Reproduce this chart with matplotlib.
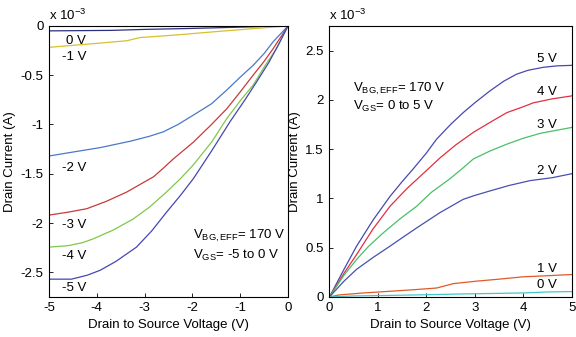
import matplotlib
matplotlib.use("Agg")
import matplotlib.pyplot as plt

plt.rcParams['font.family'] = ['Liberation Sans', 'DejaVu Sans']
plt.rcParams['mathtext.fontset'] = 'custom'
plt.rcParams['mathtext.rm'] = 'Liberation Sans'
plt.rcParams['mathtext.it'] = 'Liberation Sans'

# ---- Left panel data (VDS in V, ID in 1e-3 A) ----
left_labels = ["0 V", "-1 V", "-2 V", "-3 V", "-4 V", "-5 V"]
left_colors = ["#2b3080", "#d8c030", "#4a78c8", "#c83a3a", "#80c848", "#4646b4"]
left_x = [
    [-5, -3.7, -3.0, -2.0, -1.0, 0],
    [-5, -4.2, -3.37, -3.1, -2.3, -1.57, -0.8, 0],
    [-5, -4.5, -3.93, -3.3, -2.9, -2.61, -2.3, -1.98, -1.6, -1.28, -1.0, -0.73, -0.5, -0.31, 0],
    [-5, -4.6, -4.21, -3.8, -3.37, -3.1, -2.81, -2.6, -2.4, -1.98, -1.6, -1.28, -1.0, -0.73, -0.5, -0.31, 0],
    [-5, -4.6, -4.3, -4.07, -3.65, -3.24, -2.9, -2.54, -2.25, -1.98, -1.6, -1.28, -1.0, -0.73, -0.45, -0.24, 0],
    [-5, -4.53, -4.2, -3.93, -3.6, -3.17, -2.85, -2.54, -2.25, -1.98, -1.6, -1.21, -0.9, -0.66, -0.4, -0.2, 0],
]
left_y = [
    [-0.05, -0.045, -0.035, -0.025, -0.012, 0],
    [-0.217, -0.185, -0.15, -0.118, -0.09, -0.06, -0.03, 0],
    [-1.32, -1.28, -1.235, -1.17, -1.12, -1.075, -1.0, -0.905, -0.79, -0.65, -0.52, -0.40, -0.28, -0.16, 0],
    [-1.92, -1.89, -1.855, -1.78, -1.685, -1.61, -1.53, -1.44, -1.35, -1.18, -1.0, -0.84, -0.67, -0.50, -0.36, -0.23, 0],
    [-2.245, -2.23, -2.2, -2.16, -2.07, -1.96, -1.84, -1.685, -1.55, -1.41, -1.18, -0.94, -0.76, -0.60, -0.38, -0.23, 0],
    [-2.57, -2.57, -2.53, -2.48, -2.39, -2.245, -2.08, -1.89, -1.72, -1.55, -1.27, -0.97, -0.75, -0.57, -0.37, -0.19, 0],
]
left_label_pos = [(-4.65, -0.095), (-4.73, -0.25), (-4.73, -1.38), (-4.73, -1.96),
                  (-4.73, -2.27), (-4.73, -2.60)]

# ---- Right panel data ----
right_labels = ["5 V", "4 V", "3 V", "2 V", "1 V", "0 V"]
right_colors = ["#4848b0", "#e03040", "#48c068", "#4850b0", "#e05a28", "#40c8c8"]
right_x = [
    [0, 0.3, 0.56, 0.9, 1.25, 1.5, 1.73, 2.0, 2.21, 2.5, 2.76, 3.0, 3.31, 3.6, 3.86, 4.1, 4.41, 4.7, 5],
    [0, 0.3, 0.56, 0.9, 1.25, 1.6, 2.04, 2.28, 2.6, 2.97, 3.31, 3.66, 4.0, 4.21, 4.6, 5],
    [0, 0.3, 0.56, 0.8, 1.11, 1.45, 1.80, 2.1, 2.49, 2.76, 2.97, 3.31, 3.66, 4.0, 4.35, 5],
    [0, 0.3, 0.56, 0.9, 1.25, 1.5, 1.80, 2.28, 2.76, 3.0, 3.31, 3.7, 4.14, 4.6, 5],
    [0, 0.2, 0.7, 1.25, 1.8, 2.21, 2.56, 3.04, 3.5, 4.0, 4.5, 5],
    [0, 0.5, 1.25, 2.0, 2.76, 3.4, 4.0, 4.5, 5],
]
right_y = [
    [0, 0.28, 0.515, 0.78, 1.02, 1.17, 1.30, 1.46, 1.60, 1.75, 1.87, 1.97, 2.09, 2.19, 2.26, 2.30, 2.33, 2.345, 2.35],
    [0, 0.24, 0.43, 0.69, 0.92, 1.10, 1.30, 1.41, 1.54, 1.67, 1.77, 1.87, 1.93, 1.97, 2.01, 2.04],
    [0, 0.22, 0.38, 0.51, 0.65, 0.79, 0.92, 1.06, 1.20, 1.31, 1.40, 1.48, 1.55, 1.61, 1.66, 1.72],
    [0, 0.16, 0.28, 0.40, 0.515, 0.60, 0.70, 0.855, 0.99, 1.03, 1.075, 1.13, 1.18, 1.21, 1.25],
    [0, 0.02, 0.04, 0.057, 0.075, 0.09, 0.135, 0.16, 0.18, 0.204, 0.215, 0.227],
    [0, 0.01, 0.015, 0.022, 0.03, 0.035, 0.04, 0.05, 0.054],
]
right_label_pos = [(4.69, 2.38), (4.69, 2.05), (4.69, 1.71), (4.69, 1.25),
                   (4.69, 0.25), (4.69, 0.09)]

fig = plt.figure(figsize=(5.76, 3.37), dpi=100)
axL = fig.add_axes([0.085, 0.119, 0.415, 0.804])
axR = fig.add_axes([0.572, 0.119, 0.4205, 0.804])

fs = 9.5
for x, y, c in zip(left_x, left_y, left_colors):
    axL.plot(x, y, color=c, lw=0.9)
for (tx, ty), lab in zip(left_label_pos, left_labels):
    axL.text(tx, ty, lab, fontsize=fs, ha='left', va='top')
axL.set_xlim(-5, 0)
axL.set_ylim(-2.75, 0)
axL.set_xticks([-5, -4, -3, -2, -1, 0])
axL.set_yticks([-2.5, -2, -1.5, -1, -0.5, 0])
axL.set_yticklabels(["-2.5", "-2", "-1.5", "-1", "-0.5", "0"])
axL.set_xticklabels(["-5", "-4", "-3", "-2", "-1", "0"])
axL.text(-1.99, -2.16, r"V$_{\mathregular{BG,EFF}}$= 170 V", fontsize=fs, ha='left', va='baseline')
axL.text(-1.99, -2.36, r"V$_{\mathregular{GS}}$= -5 to 0 V", fontsize=fs, ha='left', va='baseline')

for x, y, c in zip(right_x, right_y, right_colors):
    axR.plot(x, y, color=c, lw=0.9)
for (tx, ty), lab in zip(right_label_pos, right_labels):
    axR.text(tx, ty, lab, fontsize=fs, ha='right', va='baseline')
axR.set_xlim(0, 5)
axR.set_ylim(0, 2.75)
axR.set_xticks([0, 1, 2, 3, 4, 5])
axR.set_yticks([0, 0.5, 1, 1.5, 2, 2.5])
axR.set_yticklabels(["0", "0.5", "1", "1.5", "2", "2.5"])
axR.text(0.49, 2.08, r"V$_{\mathregular{BG,EFF}}$= 170 V", fontsize=fs, ha='left', va='baseline')
axR.text(0.49, 1.90, r"V$_{\mathregular{GS}}$= 0 to 5 V", fontsize=fs, ha='left', va='baseline')

for ax in (axL, axR):
    ax.tick_params(direction='in', length=3, width=0.6, labelsize=fs, pad=4,
                   top=False, right=False)
    for s in ax.spines.values():
        s.set_linewidth(0.8)
    ax.set_xlabel("Drain to Source Voltage (V)", fontsize=fs, labelpad=3)
    ax.set_ylabel("Drain Current (A)", fontsize=fs, labelpad=3)
    ax.text(0.0, 1.01, r"x 10$^{\mathregular{-3}}$", transform=ax.transAxes,
            fontsize=fs, ha='left', va='bottom')

fig.savefig("out.png", dpi=100)
